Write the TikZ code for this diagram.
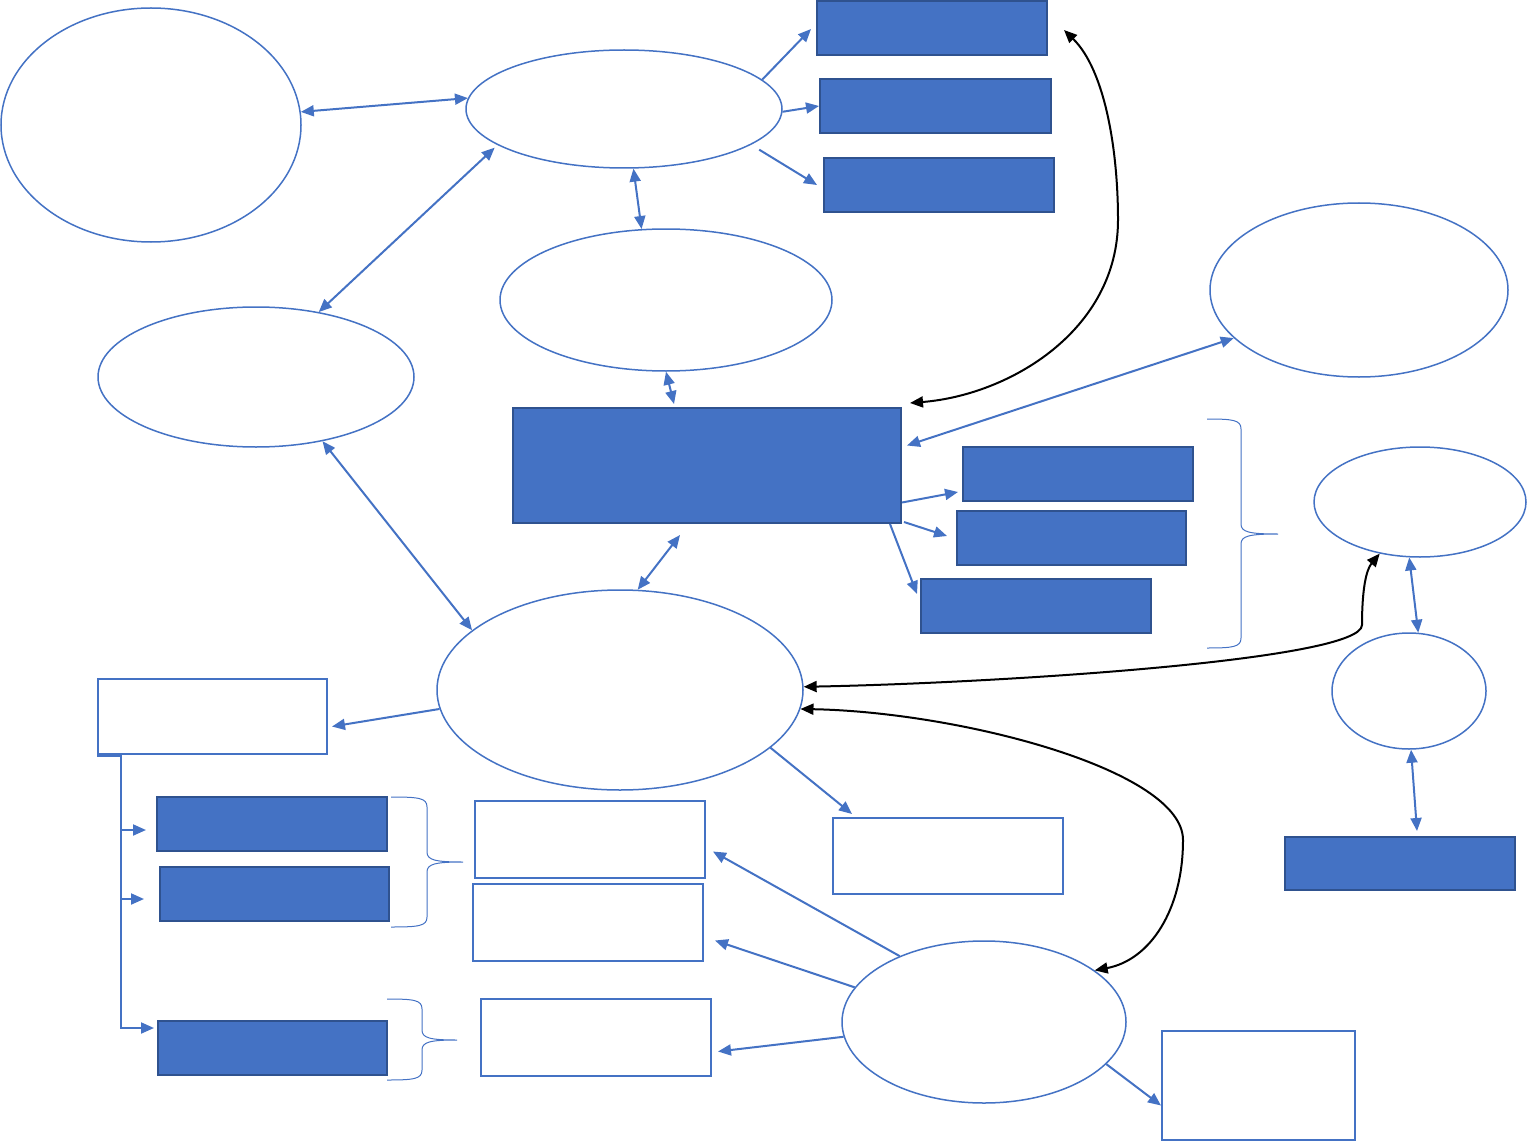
\documentclass[tikz,border=0pt]{standalone}
\usetikzlibrary{shapes.geometric,arrows.meta,calc}
\definecolor{acc}{HTML}{4472C4}
\definecolor{accdark}{HTML}{2F528F}
\tikzset{
  ell/.style={ellipse, draw=acc, line width=1.5pt, inner sep=0pt, fill=white},
  fbox/.style={rectangle, draw=accdark, fill=acc, line width=2pt, inner sep=0pt},
  obox/.style={rectangle, draw=acc, line width=2pt, inner sep=0pt, fill=white},
  tip/.tip={Triangle[length=13pt,width=11pt]},
  conn/.style={draw=acc, line width=2pt, -tip},
  dconn/.style={draw=acc, line width=2pt, tip-tip},
  curv/.style={draw=black, line width=2pt, tip-tip},
  bracestyle/.style={draw=acc, line width=1pt},
}
\newcommand{\drawbrace}[6]{%
  \draw[bracestyle] (#1,#2) .. controls (#4-8,#2) and (#4,#2+1) .. (#4,#2+10)
    -- (#4,#6-10) .. controls (#4,#6-2) and (#4+8,#6) .. (#5,#6)
    .. controls (#4+8,#6) and (#4,#6+2) .. (#4,#6+10)
    -- (#4,#3-10) .. controls (#4,#3-1) and (#4-8,#3) .. (#1,#3);}
\begin{document}
\begin{tikzpicture}[x=1pt,y=-1pt]
\useasboundingbox (0,0) rectangle (1528,1142);
% ellipses
\node[ell, minimum width=300pt, minimum height=234pt] (e1) at (151,125) {};
\node[ell, minimum width=316pt, minimum height=118pt] (e2) at (624,109) {};
\node[ell, minimum width=332pt, minimum height=142pt] (e3) at (666,300) {};
\node[ell, minimum width=316pt, minimum height=140pt] (e4) at (256,377) {};
\node[ell, minimum width=298pt, minimum height=174pt] (e5) at (1359,290) {};
\node[ell, minimum width=212pt, minimum height=110pt] (e6) at (1420,502) {};
\node[ell, minimum width=154pt, minimum height=116pt] (e7) at (1409,691) {};
\node[ell, minimum width=366pt, minimum height=200pt] (e8) at (620,690) {};
\node[ell, minimum width=284pt, minimum height=162pt] (e9) at (984,1022) {};
% filled boxes
\node[fbox, minimum width=230pt, minimum height=54pt] (r1) at (932,28) {};
\node[fbox, minimum width=231pt, minimum height=54pt] (r2) at (935.5,106) {};
\node[fbox, minimum width=230pt, minimum height=54pt] (r3) at (939,185) {};
\node[fbox, minimum width=388pt, minimum height=115pt] (main) at (707,465.5) {};
\node[fbox, minimum width=230pt, minimum height=54pt] (r4) at (1078,474) {};
\node[fbox, minimum width=229pt, minimum height=54pt] (r5) at (1071.5,538) {};
\node[fbox, minimum width=230pt, minimum height=54pt] (r6) at (1036,606) {};
\node[fbox, minimum width=230pt, minimum height=53pt] (r7) at (1400,863.5) {};
\node[fbox, minimum width=230pt, minimum height=54pt] (r8) at (272,824) {};
\node[fbox, minimum width=229pt, minimum height=54pt] (r9) at (274.5,894) {};
\node[fbox, minimum width=229pt, minimum height=54pt] (r10) at (272.5,1048) {};
% outline boxes
\node[obox, minimum width=229pt, minimum height=75pt] (o1) at (212.5,716.5) {};
\node[obox, minimum width=230pt, minimum height=77pt] (o2) at (590,839.5) {};
\node[obox, minimum width=230pt, minimum height=77pt] (o3) at (588,922.5) {};
\node[obox, minimum width=230pt, minimum height=77pt] (o4) at (596,1037.5) {};
\node[obox, minimum width=230pt, minimum height=76pt] (o5) at (948,856) {};
\node[obox, minimum width=193pt, minimum height=109pt] (o6) at (1258.5,1085.5) {};
% blue connectors
\draw[dconn] (e1.5) -- (e2.176);
\draw[conn] (e2.12) -- ([xshift=-5pt,yshift=-1pt]r1.west);
\draw[conn] (e2.-1) -- (r2.west);
\draw[conn] ([xshift=12pt,yshift=-3pt]e2.-17) -- ([xshift=-6pt]r3.west);
\draw[dconn] ([yshift=-4pt]e2.195) -- (e4.46);
\draw[dconn] (e2.-81) -- (e3.109);
\draw[dconn] (e3.270) -- ([xshift=-33pt,yshift=3pt]main.north);
\draw[dconn] (e5.201) -- ([xshift=5pt,yshift=20pt]main.east);
\draw[conn] ([yshift=-37pt]main.east) -- ([xshift=-4pt,yshift=-18pt]r4.west);
\draw[conn] ([xshift=2pt,yshift=2pt]main.south east) -- ([xshift=-9pt,yshift=2pt]r5.west);
\draw[conn] ([xshift=-12pt]main.south east) -- ([xshift=-3pt,yshift=-16pt]r6.north west);
\draw[dconn] (e4.-44) -- (e8.158);
\draw[dconn] ([xshift=-27pt,yshift=-11pt]main.south) -- (e8.80);
\draw[conn] (e8.186) -- ([xshift=4pt,yshift=-10pt]o1.east);
\draw[conn] (e8.-21) -- ([xshift=20pt,yshift=3pt]o5.north west);
\draw[conn] (e9.142) -- ([xshift=7pt,yshift=-12pt]o2.east);
\draw[conn] (e9.165) -- ([xshift=11pt,yshift=-18pt]o3.east);
\draw[conn] (e9.186) -- ([xshift=6pt,yshift=-14pt]o4.east);
\draw[conn] (e9.-19) -- ([yshift=-20pt]o6.west);
\draw[dconn] (e6.259) -- (e7.81);
\draw[dconn] (e7.-88) -- ([xshift=17pt,yshift=5pt]r7.north);
% black curves
\draw[curv] ([xshift=16pt,yshift=-2pt]r1.east) .. controls (1105,70) and (1118,150) .. (1118,220)
  .. controls (1118,330) and (1010,395) .. ([xshift=8pt,yshift=4pt]main.north east);
\draw[curv] (e8.1) .. controls (1000,683) and (1362,660) .. (1362,625)
  .. controls (1362,590) and (1366,570) .. (e6.232);
\draw[curv] (e8.-6) .. controls (960,712) and (1183,770) .. (1183,840)
  .. controls (1183,910) and (1150,960) .. (e9.25);
% left connector
\coordinate (l0) at ([xshift=24pt]o1.south west);
\draw[draw=acc, line width=4pt] (o1.south west) -- (l0);
\draw[conn] (l0) |- ([xshift=-3pt,yshift=20pt]r10.west);
\coordinate (t8) at ([xshift=-10pt,yshift=-6pt]r8.west);
\coordinate (t9) at ([xshift=-15pt,yshift=-5pt]r9.west);
\draw[conn] (l0 |- t8) -- (t8);
\draw[conn] (l0 |- t9) -- (t9);
% braces
\drawbrace{1207}{419}{648}{1241}{1278}{534}
\drawbrace{391}{797}{927}{427}{463}{862}
\drawbrace{387}{999}{1080}{422}{457}{1040}
\end{tikzpicture}
\end{document}
